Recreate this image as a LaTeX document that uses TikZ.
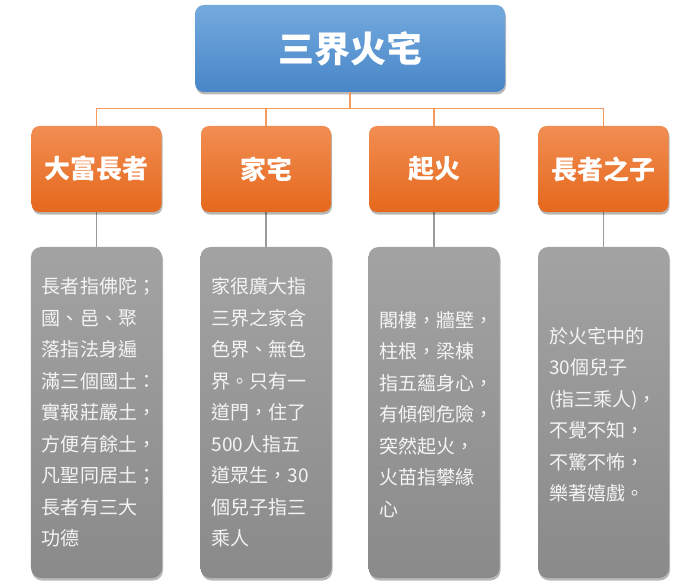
\documentclass[tikz,border=0pt]{standalone}
\usepackage{fontspec}
\usetikzlibrary{shadows}
\newfontfamily\tc{Noto Sans CJK TC}
\definecolor{bluetop}{HTML}{74AADE}
\definecolor{bluebot}{HTML}{4886C8}
\definecolor{orgtop}{HTML}{F18D52}
\definecolor{orgbot}{HTML}{E5681C}
\definecolor{graytop}{HTML}{A3A3A3}
\definecolor{graybot}{HTML}{8A8A8A}
\definecolor{orgline}{HTML}{F49A5E}
\definecolor{grayline}{HTML}{9A9A9A}
\definecolor{boxtext}{HTML}{F4F4F4}
\tikzset{
  boxshadow/.style={drop shadow={shadow xshift=1bp, shadow yshift=-2.5bp, opacity=0.28, fill=black}},
  topbox/.style={boxshadow, rounded corners=9bp, top color=bluetop, bottom color=bluebot,
    minimum width=310bp, minimum height=87bp, inner sep=0pt,
    text=white, font=\tc\bfseries\fontsize{36bp}{40bp}\selectfont},
  catbox/.style={boxshadow, rounded corners=8bp, top color=orgtop, bottom color=orgbot,
    minimum width=130bp, minimum height=86bp, inner sep=0pt,
    text=white, font=\tc\bfseries\fontsize{26bp}{30bp}\selectfont},
  descbox/.style={boxshadow, rounded corners=10bp, top color=graytop, bottom color=graybot,
    minimum width=131bp, minimum height=331bp, inner sep=0pt},
  desctext/.style={anchor=west, inner sep=0pt, align=left, text=boxtext,
    font=\tc\fontsize{19bp}{31.5bp}\selectfont},
  oline/.style={draw=orgline, line width=1.6bp},
  gline/.style={draw=grayline, line width=1.1bp}
}
\begin{document}
\begin{tikzpicture}[x=1bp,y=-1bp]
\useasboundingbox (0,0) rectangle (700,587);
% junction of connectors
\coordinate (j) at (350,108.5);
\coordinate (c1) at (96.5,169);
\coordinate (c2) at (266,169);
\coordinate (c3) at (434,169);
\coordinate (c4) at (603.5,169);
% connectors (behind the boxes)
\node[topbox] (top) at (350,48.5) {三界火宅};
\draw[oline] (top.south) -- (j);
\draw[oline] (j) -| (c1);
\draw[oline] (j) -| (c2);
\draw[oline] (j) -| (c3);
\draw[oline] (j) -| (c4);
\node[descbox] (g1) at (96.5,412.5) {};
\node[descbox] (g2) at (266,412.5) {};
\node[descbox] (g3) at (434,412.5) {};
\node[descbox] (g4) at (603.5,412.5) {};
\draw[gline] (c1) -- (g1.north);
\draw[gline] (c2) -- (g2.north);
\draw[gline] (c3) -- (g3.north);
\draw[gline] (c4) -- (g4.north);
\node[catbox] (o1) at (c1) {大富長者};
\node[catbox] (o2) at (c2) {家宅};
\node[catbox] (o3) at (c3) {起火};
\node[catbox] (o4) at (c4) {長者之子};
\node[desctext] (t1) at ([xshift=11bp]g1.west) {長者指佛陀；\\國、邑、聚\\落指法身遍\\滿三個國土：\\實報莊嚴土，\\方便有餘土，\\凡聖同居土；\\長者有三大\\功德};
\node[desctext] (t2) at ([xshift=11bp]g2.west) {家很廣大指\\三界之家含\\色界、無色\\界。只有一\\道門，住了\\500人指五\\道眾生，30\\個兒子指三\\乘人};
\node[desctext] (t3) at ([xshift=11bp,yshift=-2bp]g3.west) {閣樓，牆壁，\\柱根，梁棟\\指五蘊身心，\\有傾倒危險，\\突然起火，\\火苗指攀緣\\心};
\node[desctext] (t4) at ([xshift=11bp,yshift=-2bp]g4.west) {於火宅中的\\30個兒子\\(指三乘人)，\\不覺不知，\\不驚不怖，\\樂著嬉戲。};
\end{tikzpicture}
\end{document}
